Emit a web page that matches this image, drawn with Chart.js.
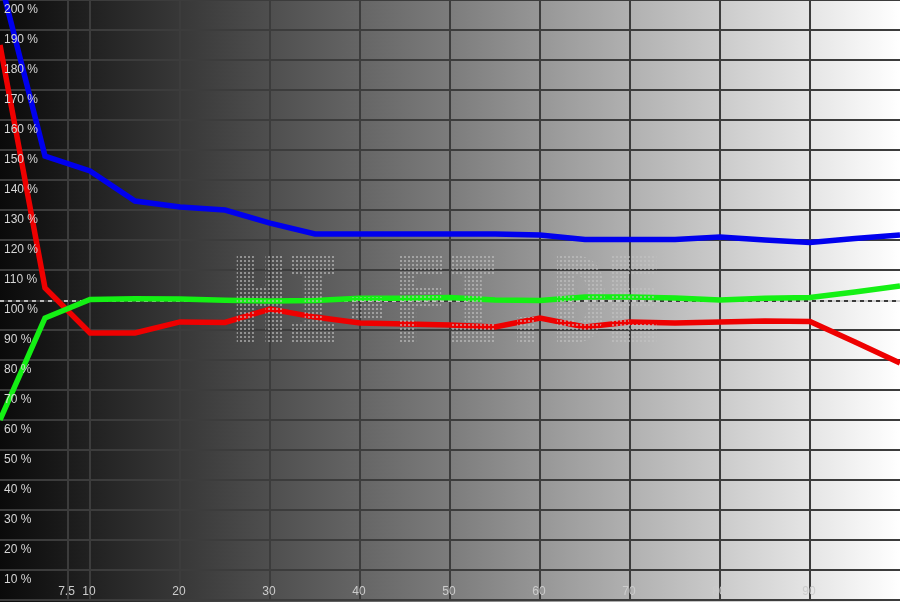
<!DOCTYPE html>
<html>
<head>
<meta charset="utf-8">
<style>
  html, body { margin: 0; padding: 0; background: #000; }
</style>
</head>
<body>
<canvas id="myChart" width="900" height="602"></canvas>
<script src="https://cdn.jsdelivr.net/npm/chart.js"></script>
<script>
// stimulus level (%) and measured RGB balance (%)
const stimulus = [0, 5, 10, 15, 20, 25, 30, 35, 40, 45, 50, 55, 60, 65, 70, 75, 80, 85, 90, 95, 100];
const blue  = [207, 148, 143, 133, 131, 130, 125.6, 122, 122, 122, 122, 122, 121.7, 120.2, 120.2, 120.2, 121, 120, 119.2, 120.5, 121.7];
const green = [60, 94, 100.2, 100.4, 100.3, 99.9, 99.7, 99.8, 100.6, 100.6, 100.8, 100, 99.8, 101, 101, 100.7, 100, 100.6, 100.8, 102.7, 104.7];
const red   = [185, 104, 89, 89, 92.7, 92.5, 97, 94.3, 92.3, 92, 91.7, 91, 94, 91, 92.7, 92.3, 92.7, 93, 92.8, 86, 79];

const xTicks = [7.5, 10, 20, 30, 40, 50, 60, 70, 80, 90];
const yTicks = [10, 20, 30, 40, 50, 60, 70, 80, 90, 100, 110, 120, 130, 140, 150, 160, 170, 180, 190, 200];
const refLevel = 100;
const watermark = 'HI-FI.DE';

const pts = vals => stimulus.map((s, i) => ({ x: s, y: vals[i] }));
const FONT = '12px "Liberation Sans", Arial, sans-serif';

// grey ramp behind the plot
const bgPlugin = {
  id: 'bg',
  beforeDraw(chart) {
    const ctx = chart.ctx;
    const g = ctx.createLinearGradient(0, 0, chart.width, 0);
    g.addColorStop(0, '#0a0a0a');
    g.addColorStop(0.5, '#7c7c7c');
    g.addColorStop(1, '#ffffff');
    ctx.save();
    ctx.fillStyle = g;
    ctx.fillRect(0, 0, chart.width, chart.height);
    ctx.restore();
  }
};

// dashed 100 % line, light and dark dashes so it shows on the whole ramp
const refPlugin = {
  id: 'ref',
  beforeDatasetsDraw(chart) {
    const ctx = chart.ctx, a = chart.chartArea;
    const y = Math.round(chart.scales.y.getPixelForValue(refLevel)) + 1;
    ctx.save();
    ctx.lineWidth = 2;
    ctx.setLineDash([4, 4]);
    ctx.strokeStyle = 'rgba(205,205,205,0.9)';
    ctx.beginPath(); ctx.moveTo(a.left, y); ctx.lineTo(a.right, y); ctx.stroke();
    ctx.lineDashOffset = 4;
    ctx.strokeStyle = '#3a3a3a';
    ctx.beginPath(); ctx.moveTo(a.left, y); ctx.lineTo(a.right, y); ctx.stroke();
    ctx.restore();
  }
};

// dotted watermark over the curves
const markPlugin = {
  id: 'mark',
  afterDatasetsDraw(chart) {
    const off = document.createElement('canvas');
    off.width = chart.width; off.height = chart.height;
    const o = off.getContext('2d');
    o.font = 'bold 100px "DejaVu Sans Mono", monospace';
    const m = o.measureText(watermark);
    const sx = 427 / m.width;
    const sy = 82 / m.actualBoundingBoxAscent;
    o.save();
    o.translate(233, 340);
    o.scale(sx, sy);
    o.fillStyle = '#000';
    o.strokeStyle = '#000';
    o.lineWidth = 5;
    o.fillText(watermark, 0, 0);
    o.strokeText(watermark, 0, 0);
    o.restore();

    const dot = document.createElement('canvas');
    dot.width = 4; dot.height = 4;
    const d = dot.getContext('2d');
    d.fillStyle = '#c4c4c4';
    d.fillRect(0, 0, 2, 2);
    o.globalCompositeOperation = 'source-in';
    o.fillStyle = o.createPattern(dot, 'repeat');
    o.fillRect(0, 0, off.width, off.height);

    const ctx = chart.ctx;
    ctx.save();
    ctx.globalAlpha = 0.6;
    ctx.drawImage(off, 0, 0);
    ctx.restore();
  }
};

// tick labels drawn inside the plot
const labelPlugin = {
  id: 'labels',
  afterDraw(chart) {
    const ctx = chart.ctx;
    const xs = chart.scales.x, ys = chart.scales.y;
    ctx.save();
    ctx.font = FONT;
    ctx.fillStyle = '#d6d6d6';
    ctx.textAlign = 'left';
    ctx.textBaseline = 'middle';
    yTicks.forEach(v => ctx.fillText(v + ' %', 4, ys.getPixelForValue(v) + 10));
    ctx.textAlign = 'center';
    ctx.fillStyle = '#cccccc';
    xTicks.forEach(v => ctx.fillText(String(v), xs.getPixelForValue(v) - 1, 592));
    ctx.restore();
  }
};

new Chart(document.getElementById('myChart'), {
  type: 'line',
  data: {
    datasets: [
      { label: 'Blau', data: pts(blue), borderColor: '#0000ee', borderWidth: 5.5 },
      { label: 'Grün', data: pts(green), borderColor: '#14f014', borderWidth: 5.5 },
      { label: 'Rot', data: pts(red), borderColor: '#ee0000', borderWidth: 5.5 }
    ]
  },
  options: {
    responsive: false,
    animation: false,
    layout: { padding: { left: 0, right: 0, top: 0, bottom: 2 } },
    elements: { point: { radius: 0 }, line: { tension: 0, borderCapStyle: 'butt', borderJoinStyle: 'miter' } },
    plugins: { legend: { display: false }, tooltip: { enabled: false } },
    scales: {
      x: {
        type: 'linear', min: 0, max: 100,
        afterBuildTicks: s => { s.ticks = xTicks.map(v => ({ value: v })); },
        ticks: { display: false },
        grid: { color: '#3c3c3c', lineWidth: 2, drawTicks: false },
        border: { display: false }
      },
      y: {
        min: 0, max: 200,
        ticks: { display: false, stepSize: 10 },
        grid: {
          color: c => c.tick && c.tick.value === refLevel ? 'rgba(0,0,0,0)' : '#3c3c3c',
          lineWidth: 2, drawTicks: false
        },
        border: { display: false }
      }
    }
  },
  plugins: [bgPlugin, refPlugin, markPlugin, labelPlugin]
});
</script>
</body>
</html>
